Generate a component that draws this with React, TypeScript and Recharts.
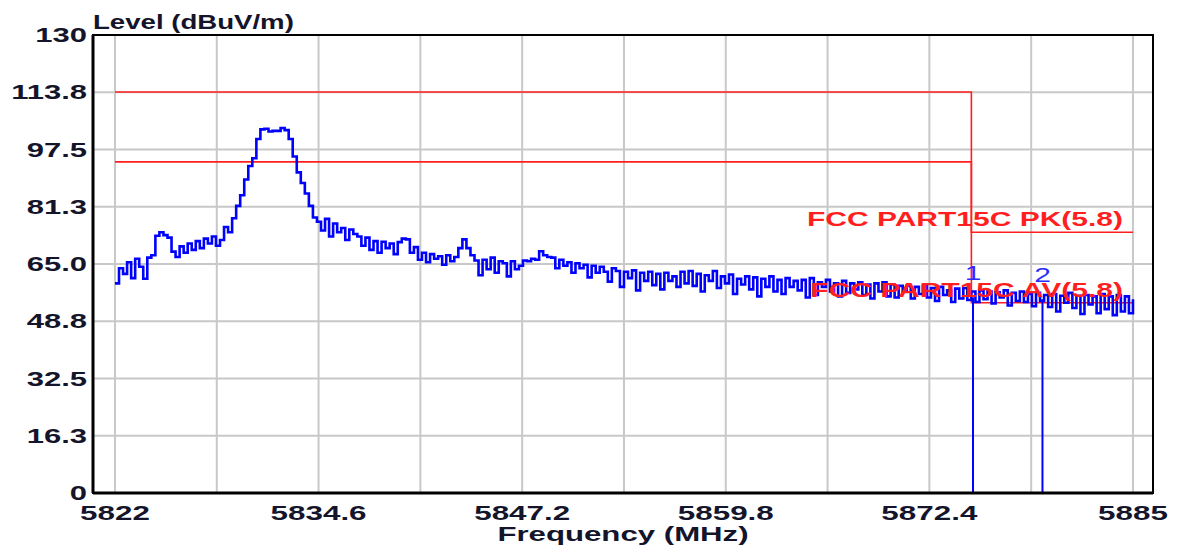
import { LineChart, Line, XAxis, YAxis, CartesianGrid, ReferenceArea } from 'recharts';

const FONT = '"Liberation Sans", Arial, sans-serif';

// sweep: 5822 MHz onwards, 0.25 MHz per point
const FREQ_START = 5822;
const FREQ_STEP = 0.25;
const LEVELS = [
  59.5, 63.8, 62.2, 65.5, 61, 66.5, 64.2, 60.8, 66.8, 67.5, 73, 74,
  73.2, 72.5, 68.5, 67, 70, 68.2, 70.8, 69, 71.5, 69.5, 72.2, 70.8,
  72.8, 70.2, 71.8, 75.5, 74, 78, 81.5, 84.5, 89, 92.8, 95, 100.5,
  103.2, 103.4, 102.6, 102.8, 102.8, 103.6, 103, 100.5, 95.5, 91, 88, 85,
  81.5, 78.2, 77, 74.5, 77.8, 72.8, 76.5, 74, 75.2, 71.8, 74.8, 73.5,
  72.8, 70.2, 72.5, 69, 71.5, 68.2, 71.3, 69.5, 70.8, 67.8, 71.2, 72.2,
  72, 68.2, 69.8, 66.2, 68.2, 65.5, 67.8, 66.5, 67.2, 64.8, 67.5, 65.8,
  67, 69.5, 72, 69.5, 67.5, 66, 61.8, 66.2, 63.5, 66.8, 62.5, 65.8,
  65.2, 61.5, 65.8, 63.5, 64.5, 66, 65.8, 66.5, 66.2, 68.6, 67.5, 67,
  66.8, 63.8, 66.2, 64.5, 65.5, 62.5, 65.2, 63.8, 64.8, 61.2, 64.5, 62.5,
  64.2, 62.8, 60, 63.8, 63, 58.5, 62.8, 61, 63.2, 57.5, 62.5, 60.2,
  62.8, 59, 62.2, 57.8, 62.5, 60.2, 61.5, 58.5, 62.8, 59.5, 63, 58.8,
  62.2, 57.2, 61.8, 60.2, 63, 58.2, 61.5, 59.5, 62, 56.5, 60.8, 59.2,
  61.5, 57.8, 61.2, 55.8, 60.8, 58.5, 61.5, 57.2, 60.5, 56.5, 61, 58.5,
  60.2, 57.5, 60.5, 55.5, 61, 56.2, 59.8, 58.5, 60.5, 57.2, 59.5, 55.8,
  60.2, 56.8, 59.5, 57.8, 59.8, 56.2, 59.2, 55.2, 59.5, 57.2, 59.8, 55.8,
  59.2, 55.5, 58.8, 57.2, 58.8, 55.2, 58.5, 56.5, 58.8, 55.5, 58.2, 54.5,
  58.5, 56.2, 57.5, 54.2, 58, 55.2, 58.2, 54.8, 57.2, 54.2, 57.5, 55,
  57.2, 53.8, 57, 55.5, 57.5, 53.2, 56.8, 54.5, 57.2, 54.2, 56.5, 53,
  56.8, 54.5, 56.2, 52.8, 56.5, 51.5, 56, 54, 56.8, 52.5, 56, 50.8,
  56.2, 53.5, 55.8, 51, 56.5, 52.2, 55.8, 50.5, 56.2, 51.5, 55.8, 51,
  55,
];

const PK_LIMIT_F = [5822, 5875, 5875, 5885];
const PK_LIMIT_V = [113.8, 113.8, 74, 74];
const AV_LIMIT_F = [5822, 5875, 5875, 5885];
const AV_LIMIT_V = [94, 94, 54, 54];

const MARKER_F = [5875.1, 5879.4];
const MARKER_V = [55.5, 55];
const MARKER_LABELS = ['1', '2'];

const X_DOMAIN: [number, number] = [5820.64, 5886.24];
const X_TICKS = [5822, 5828.3, 5834.6, 5840.9, 5847.2, 5853.5, 5859.8, 5866.1, 5872.4, 5878.7, 5885];
const X_TICK_LABELS = ['5822', '', '5834.6', '', '5847.2', '', '5859.8', '', '5872.4', '', '5885'];
const Y_TICKS = [0, 16.25, 32.5, 48.75, 65, 81.25, 97.5, 113.75, 130];
const Y_TICK_LABELS = ['0', '16.3', '32.5', '48.8', '65.0', '81.3', '97.5', '113.8', '130'];

const trace = LEVELS.map((v, i) => ({ f: FREQ_START + i * FREQ_STEP, v }));
const pkLimit = PK_LIMIT_F.map((f, i) => ({ f, v: PK_LIMIT_V[i] }));
const avLimit = AV_LIMIT_F.map((f, i) => ({ f, v: AV_LIMIT_V[i] }));

const TICK_COLOR = '#14142a';
const LIMIT_RED = '#ff1f1f';
const TRACE_BLUE = '#0000ff';

function YTick(props: any) {
  const { x, y, payload } = props;
  const label = Y_TICK_LABELS[Y_TICKS.indexOf(payload.value)] ?? '';
  return (
    <g transform={`translate(${x},${y}) scale(1.55,1)`}>
      <text textAnchor="end" dy="0.36em" fontSize={20} fontWeight="bold" fontFamily={FONT} fill={TICK_COLOR}>
        {label}
      </text>
    </g>
  );
}

function XTick(props: any) {
  const { x, y, payload } = props;
  const label = X_TICK_LABELS[X_TICKS.indexOf(payload.value)] ?? '';
  if (!label) return <g />;
  return (
    <g transform={`translate(${x},${y}) scale(1.57,1)`}>
      <text textAnchor="middle" dy="0.84em" fontSize={20} fontWeight="bold" fontFamily={FONT} fill={TICK_COLOR}>
        {label}
      </text>
    </g>
  );
}

function YTitle(props: any) {
  const vb = props.viewBox;
  return (
    <g transform={`translate(${vb.x + vb.width},${vb.y - 6}) scale(1.38,1)`}>
      <text fontSize={20} fontWeight="bold" fontFamily={FONT} fill={TICK_COLOR}>
        Level (dBuV/m)
      </text>
    </g>
  );
}

function XTitle(props: any) {
  const vb = props.viewBox;
  return (
    <g transform={`translate(${vb.x + vb.width / 2},${vb.y + 48}) scale(1.56,1)`}>
      <text textAnchor="middle" fontSize={20} fontWeight="bold" fontFamily={FONT} fill={TICK_COLOR}>
        Frequency (MHz)
      </text>
    </g>
  );
}

// limit name goes above the last segment of each limit line
const limitLabel = (name: string) => (props: any) => {
  const { x, y, index } = props;
  if (index !== 3) return null;
  return (
    <g transform={`translate(${x - 10},${y - 6}) scale(1.5,1)`}>
      <text textAnchor="end" fontSize={20} fontWeight="bold" fontFamily={FONT} fill={LIMIT_RED}>
        {name}
      </text>
    </g>
  );
};

const markerLabel = (name: string) => (props: any) => {
  const { x, y, index } = props;
  if (index !== 1) return null;
  return (
    <g transform={`translate(${x},${y - 17}) scale(1.5,1)`}>
      <text textAnchor="middle" fontSize={20} fontFamily={FONT} fill="#2b2bff">
        {name}
      </text>
    </g>
  );
};

export default function App() {
  return (
    <div style={{ position: 'absolute', left: 0, top: 0, width: 1179, height: 550, background: '#fff' }}>
      <LineChart width={1179} height={550} margin={{ top: 35, right: 26, left: 0, bottom: 0 }}>
        <CartesianGrid stroke="#c8c8c8" strokeWidth={2} />
        <XAxis
          type="number"
          dataKey="f"
          domain={X_DOMAIN}
          ticks={X_TICKS}
          allowDataOverflow
          height={57}
          tickSize={0}
          tickMargin={10}
          tick={<XTick />}
          axisLine={{ stroke: '#000', strokeWidth: 3 }}
          interval={0}
          label={(p: any) => <XTitle {...p} />}
        />
        <YAxis
          type="number"
          dataKey="v"
          domain={[0, 130]}
          ticks={Y_TICKS}
          allowDataOverflow
          width={93}
          tickSize={0}
          tickMargin={6}
          tick={<YTick />}
          axisLine={{ stroke: '#000', strokeWidth: 3 }}
          interval={0}
          label={(p: any) => <YTitle {...p} />}
        />
        <ReferenceArea x1={X_DOMAIN[0]} x2={X_DOMAIN[1]} y1={0} y2={130} fill="none" stroke="#000" strokeWidth={2} />
        <Line
          data={pkLimit}
          dataKey="v"
          type="linear"
          stroke={LIMIT_RED}
          strokeWidth={1.6}
          dot={false}
          isAnimationActive={false}
          label={limitLabel('FCC PART15C PK(5.8)')}
        />
        <Line
          data={avLimit}
          dataKey="v"
          type="linear"
          stroke={LIMIT_RED}
          strokeWidth={1.6}
          dot={false}
          isAnimationActive={false}
          label={limitLabel('FCC PART15C AV(5.8)')}
        />
        <Line
          data={trace}
          dataKey="v"
          type="stepAfter"
          stroke={TRACE_BLUE}
          strokeWidth={2.6}
          dot={false}
          isAnimationActive={false}
        />
        {MARKER_F.map((f, i) => (
          <Line
            key={MARKER_LABELS[i]}
            data={[{ f, v: 0 }, { f, v: MARKER_V[i] }]}
            dataKey="v"
            type="linear"
            stroke={TRACE_BLUE}
            strokeWidth={2}
            dot={false}
            isAnimationActive={false}
            label={markerLabel(MARKER_LABELS[i])}
          />
        ))}
      </LineChart>
    </div>
  );
}
